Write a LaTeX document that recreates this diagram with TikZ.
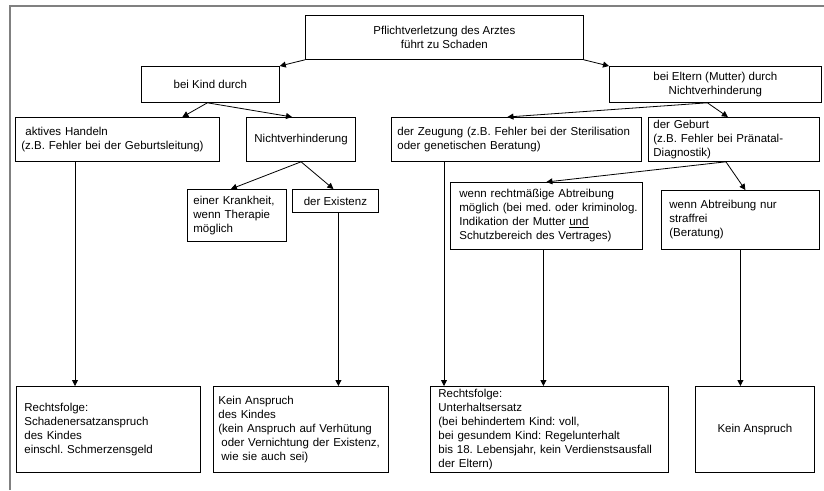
\documentclass[tikz,border=0pt]{standalone}
\usepackage{fontspec}
\setmainfont{Liberation Sans}
\usetikzlibrary{arrows.meta}
\newcommand{\boxfont}{\fontsize{11.5}{14}\selectfont\frenchspacing\hyphenpenalty=10000\relax\exhyphenpenalty=10000\relax}

\begin{document}
\begin{tikzpicture}[
  x=1pt, y=-1pt,
  every node/.style={draw, line width=0.8pt, inner xsep=8pt, inner ysep=1pt, anchor=north west, font=\boxfont},
  cbox/.style={align=center},
  lbox/.style={align=left},
  arrow/.style={-{Triangle[length=6pt, width=6pt]}, line width=0.8pt}
]
\useasboundingbox (0,0) rectangle (824,490);
\draw[gray, line width=2pt] (9.5,490) -- (9.5,5.5) -- (824,5.5);

% first levels
\node[cbox, minimum width=278pt, minimum height=44pt] (pflicht) at (305,15) {Pflichtverletzung des Arztes\\führt zu Schaden};
\node[cbox, minimum width=138pt, minimum height=36pt] (kind) at (141,66) {bei Kind durch};
\node[cbox, minimum width=212pt, minimum height=36pt] (eltern) at (609,66) {bei Eltern (Mutter) durch\\Nichtverhinderung};
\node[lbox, inner xsep=6pt, text width=192pt, minimum height=44pt] (aktiv) at (15,117) {\hspace*{4pt}aktives Handeln\\(z.B. Fehler bei der Geburtsleitung)};
\node[cbox, minimum width=106pt, minimum height=44pt] (nichtv) at (246,117) {Nichtverhinderung};
\node[lbox, inner xsep=6pt, text width=238pt, minimum height=44pt] (zeugung) at (391,117) {der Zeugung (z.B. Fehler bei der Sterilisation\\oder genetischen Beratung)};
\node[lbox, inner xsep=5pt, text width=161pt, minimum height=44pt] (geburt) at (648,117) {der Geburt\\(z.B. Fehler bei Pränatal-\\Diagnostik)};
\node[lbox, inner xsep=6pt, text width=87pt, minimum height=52pt] (krankheit) at (187,189) {einer Krankheit,\\wenn Therapie\\möglich};
\node[cbox, minimum width=86pt, minimum height=23pt] (existenz) at (292,189) {der Existenz};
\node[lbox, inner xsep=4pt, text width=184pt, minimum height=67pt] (rechtm) at (450,182) {\hspace*{5pt}wenn rechtmäßige Abtreibung\\\hspace*{5pt}möglich (bei med. oder kriminolog.\\\hspace*{5pt}Indikation der Mutter \underline{und}\\\hspace*{5pt}Schutzbereich des Vertrages)};
\node[lbox, text width=142pt, minimum height=59pt] (straffrei) at (661,190) {wenn Abtreibung nur\\straffrei\\(Beratung)};

% Rechtsfolgen
\node[lbox, text width=168pt, minimum height=86pt] (rfschaden) at (16,386) {Rechtsfolge:\\Schadenersatzanspruch\\des Kindes\\einschl. Schmerzensgeld};
\node[lbox, inner xsep=5pt, text width=165pt, minimum height=86pt] (keinkind) at (213,386) {Kein Anspruch\\des Kindes\\(kein Anspruch auf Verhütung\\\hspace*{3pt}oder Vernichtung der Existenz,\\\hspace*{3pt}wie sie auch sei)};
\node[lbox, text width=222pt, minimum height=86pt] (rfunterhalt) at (430,386) {Rechtsfolge:\\Unterhaltsersatz\\(bei behindertem Kind: voll,\\bei gesundem Kind: Regelunterhalt\\bis 18. Lebensjahr, kein Verdienstsausfall\\der Eltern)};
\node[cbox, minimum width=119pt, minimum height=86pt] (keinanspruch) at (695,386) {Kein Anspruch};

\draw[arrow] (pflicht.south west) -- (kind.north east);
\draw[arrow] (pflicht.south east) -- (eltern.north west);
\draw[arrow] ([xshift=-3pt]kind.south) -- ([xshift=65pt]aktiv.north);
\draw[arrow] ([xshift=-3pt]kind.south) -- ([xshift=-9pt]nichtv.north);
\draw[arrow] ([xshift=-8pt]eltern.south) -- ([xshift=-9pt]zeugung.north);
\draw[arrow] ([xshift=-8pt]eltern.south) -- ([xshift=-6pt]geburt.north);
\draw[arrow] (nichtv.south) -- ([xshift=-6pt]krankheit.north);
\draw[arrow] (nichtv.south) -- ([xshift=-2pt]existenz.north);
\draw[arrow] ([xshift=-8pt]geburt.south) -- (rechtm.north);
\draw[arrow] ([xshift=-8pt]geburt.south) -- ([xshift=5pt]straffrei.north);

% lange Verbindungen nach unten
\draw[arrow] ([xshift=60pt]aktiv.south west) -- ([xshift=60pt]rfschaden.north -| aktiv.south west);
\draw[arrow] ([xshift=3pt]existenz.south) -- ([xshift=3pt]keinkind.north -| existenz.south);
\draw[arrow] ([xshift=53pt]zeugung.south west) -- ([xshift=53pt]rfunterhalt.north -| zeugung.south west);
\draw[arrow] ([xshift=-3pt]rechtm.south) -- ([xshift=-3pt]rfunterhalt.north -| rechtm.south);
\draw[arrow] (straffrei.south) -- (straffrei.south |- keinanspruch.north);
\end{tikzpicture}
\end{document}
